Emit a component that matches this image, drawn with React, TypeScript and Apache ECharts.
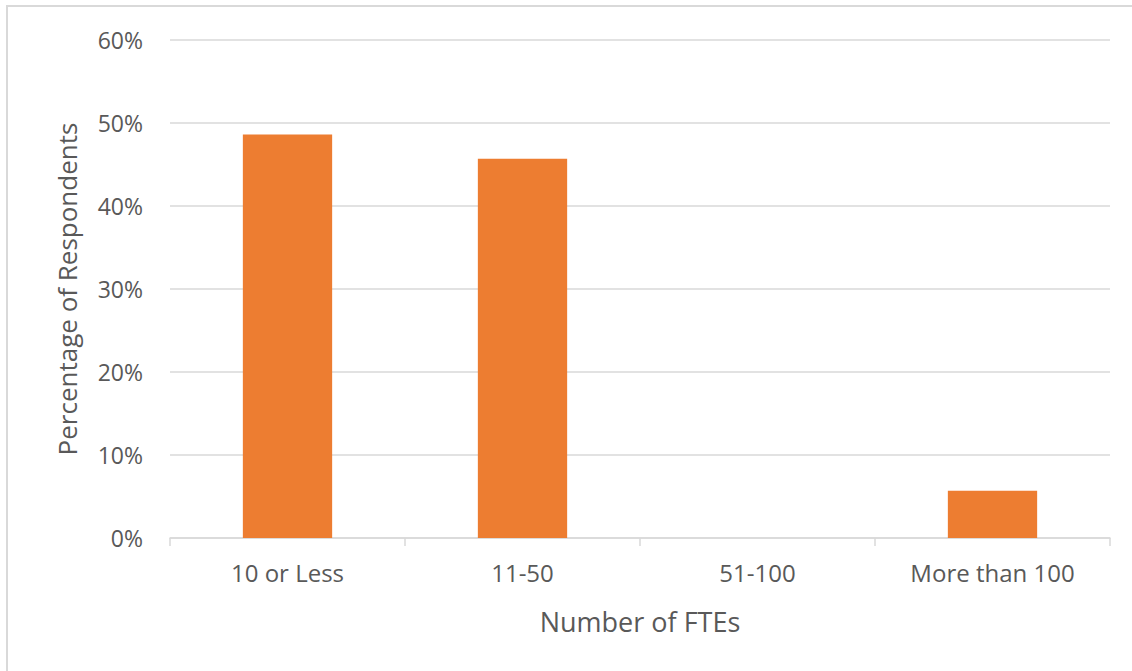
import React, { useEffect, useRef } from "react";
import * as echarts from "echarts";

const categories = ["10 or Less", "11-50", "51-100", "More than 100"];
const values = [48.6, 45.7, 0, 5.7];
const yTicks = [0, 10, 20, 30, 40, 50, 60];
const yAxisTitle = "Percentage of Respondents";
const xAxisTitle = "Number of FTEs";

const FONT = "'Open Sans', 'Noto Sans', sans-serif";
const TEXT = "#595959";

export default function App() {
  const ref = useRef<HTMLDivElement>(null);
  useEffect(() => {
    if (!ref.current) return;
    const chart = echarts.init(ref.current, null, { renderer: "svg" });
    chart.setOption({
      animation: false,
      backgroundColor: "#ffffff",
      textStyle: { fontFamily: FONT },
      graphic: [
        {
          type: "rect",
          shape: { x: 7, y: 6, width: 1200, height: 800 },
          style: { fill: "none", stroke: "#d9d9d9", lineWidth: 2 },
          silent: true,
        },
      ],
      grid: { left: 170, right: 22, top: 40, bottom: 133, containLabel: false },
      xAxis: {
        type: "category",
        data: categories,
        name: xAxisTitle,
        nameLocation: "middle",
        nameGap: 70,
        nameTextStyle: { color: TEXT, fontSize: 27, fontFamily: FONT },
        axisLine: { show: true, lineStyle: { color: "#d9d9d9", width: 1.5 } },
        axisTick: { show: true, length: 8, lineStyle: { color: "#d9d9d9", width: 1.5 }, inside: false },
        axisLabel: { color: TEXT, fontSize: 24, fontFamily: FONT, margin: 22 },
      },
      yAxis: {
        type: "value",
        min: yTicks[0],
        max: yTicks[yTicks.length - 1],
        interval: 10,
        name: yAxisTitle,
        nameLocation: "middle",
        nameGap: 90,
        nameRotate: 90,
        nameTextStyle: { color: TEXT, fontSize: 26, fontFamily: FONT },
        axisLine: { show: false },
        axisTick: { show: false },
        axisLabel: { color: TEXT, fontSize: 23, fontFamily: FONT, margin: 27, formatter: (v: number) => v + "%" },
        splitLine: { lineStyle: { color: "#d9d9d9", width: 1.5 } },
      },
      series: [
        {
          type: "bar",
          data: values,
          barWidth: "38%",
          itemStyle: { color: "#ED7D31" },
        },
      ],
    });
    return () => chart.dispose();
  }, []);
  return (
    <div
      ref={ref}
      style={{ position: "absolute", left: 0, top: 0, width: 1132, height: 671 }}
    />
  );
}
